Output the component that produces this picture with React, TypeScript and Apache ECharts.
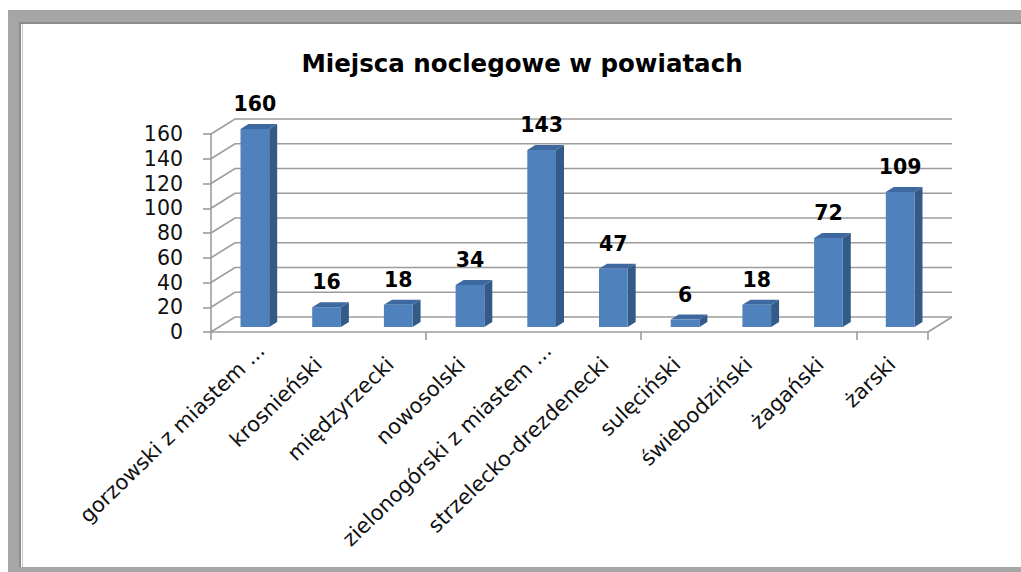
import React, { useEffect, useRef } from 'react';
import * as echarts from 'echarts';

const chartTitle = 'Miejsca noclegowe w powiatach';
const categories = [
  'gorzowski z miastem ...',
  'krosnieński',
  'międzyrzecki',
  'nowosolski',
  'zielonogórski z miastem ...',
  'strzelecko-drezdenecki',
  'sulęciński',
  'świebodziński',
  'żagański',
  'żarski',
];
const values = [160, 16, 18, 34, 143, 47, 6, 18, 72, 109];
const yTicks = [0, 20, 40, 60, 80, 100, 120, 140, 160];

const FONT = '"DejaVu Sans"';
const GRID_COLOR = '#9c9c9c';
const DX = 24;
const DY = -15;
const LABEL_ROT = (44 * Math.PI) / 180;

export default function App() {
  const ref = useRef<HTMLDivElement>(null);
  useEffect(() => {
    const chart = echarts.init(ref.current!, null, { renderer: 'svg' });
    const option: any = {
      animation: false,
      backgroundColor: '#ffffff',
      grid: { left: 211, right: 93, top: 134, bottom: 240, containLabel: false },
      graphic: [
        { type: 'rect', silent: true, shape: { x: 8, y: 10, width: 1013, height: 12 }, style: { fill: '#a6a6a6' } },
        { type: 'rect', silent: true, shape: { x: 19, y: 22, width: 1002, height: 2 }, style: { fill: '#8c8c8c' } },
        { type: 'rect', silent: true, shape: { x: 8, y: 10, width: 11, height: 562 }, style: { fill: '#a6a6a6' } },
        { type: 'rect', silent: true, shape: { x: 19, y: 22, width: 2, height: 546 }, style: { fill: '#8c8c8c' } },
        { type: 'rect', silent: true, shape: { x: 22, y: 24, width: 1, height: 543 }, style: { fill: '#c8c8c8' } },
        { type: 'rect', silent: true, shape: { x: 8, y: 567, width: 1013, height: 5 }, style: { fill: '#a6a6a6' } },
        {
          type: 'text',
          silent: true,
          x: 522,
          y: 63,
          style: {
            text: chartTitle,
            align: 'center',
            textAlign: 'center',
            verticalAlign: 'middle',
            textVerticalAlign: 'middle',
            font: 'bold 24.5px "DejaVu Sans"',
            fill: '#000000',
          },
        },
      ],
      xAxis: {
        type: 'category',
        data: categories,
        boundaryGap: true,
        axisLine: { show: true, lineStyle: { color: GRID_COLOR, width: 1.6 } },
        axisTick: { show: true, length: 8, lineStyle: { color: GRID_COLOR, width: 1.6 } },
        axisLabel: { show: false },
        splitLine: { show: false },
      },
      yAxis: {
        type: 'value',
        min: 0,
        max: 160,
        interval: 20,
        axisLine: { show: true, lineStyle: { color: GRID_COLOR, width: 1.6 } },
        axisTick: { show: true, length: 8, lineStyle: { color: GRID_COLOR, width: 1.6 } },
        axisLabel: { margin: 28, fontFamily: FONT, fontSize: 20.5, color: '#111111' },
        splitLine: { show: false },
      },
      series: [
        {
          type: 'custom',
          z: 1,
          silent: true,
          data: [[0, 0]],
          encode: { x: 0, y: 1 },
          renderItem: (params: any, api: any) => {
            const cs = params.coordSys;
            const children: any[] = [];
            const lineStyle = { stroke: GRID_COLOR, lineWidth: 1.6, fill: null };
            yTicks.forEach((t) => {
              const yf = api.coord([0, t])[1];
              children.push({
                type: 'polyline',
                shape: { points: [[cs.x, yf], [cs.x + DX, yf + DY], [cs.x + cs.width + DX, yf + DY]] },
                style: lineStyle,
              });
            });
            const y0 = api.coord([0, 0])[1];
            children.push({
              type: 'line',
              shape: { x1: cs.x + cs.width, y1: y0, x2: cs.x + cs.width + DX, y2: y0 + DY },
              style: lineStyle,
            });
            return { type: 'group', children };
          },
        },
        {
          type: 'custom',
          z: 2,
          silent: true,
          clip: false,
          data: categories.map((c, i) => [i, 0]),
          encode: { x: 0, y: 1 },
          renderItem: (params: any, api: any) => {
            const i = api.value(0);
            const p = api.coord([i, 0]);
            const name = categories[i];
            const shift = name.endsWith('...') ? 20 : 0;
            return {
              type: 'text',
              x: p[0] + shift * Math.cos(LABEL_ROT),
              y: p[1] + 29 - shift * Math.sin(LABEL_ROT),
              rotation: LABEL_ROT,
              style: {
                text: name,
                align: 'right',
                textAlign: 'right',
                verticalAlign: 'middle',
                textVerticalAlign: 'middle',
                font: '21px "DejaVu Sans"',
                fill: '#111111',
              },
            };
          },
        },
        {
          type: 'custom',
          z: 3,
          data: values.map((v, i) => [i, v]),
          encode: { x: 0, y: 1 },
          renderItem: (params: any, api: any) => {
            const xi = api.value(0);
            const v = api.value(1);
            const base = api.coord([xi, 0]);
            const top = api.coord([xi, v]);
            const band = api.size([1, 0])[0];
            const w = band * 0.4;
            const dx = DX / 3;
            const dy = DY / 3;
            const fx = base[0] + dx - w / 2;
            const fy0 = base[1] + dy;
            const fy1 = top[1] + dy;
            return {
              type: 'group',
              children: [
                {
                  type: 'polygon',
                  shape: { points: [[fx + w, fy1], [fx + w + dx, fy1 + dy], [fx + w + dx, fy0 + dy], [fx + w, fy0]] },
                  style: { fill: '#345a88' },
                },
                {
                  type: 'polygon',
                  shape: { points: [[fx, fy1], [fx + dx, fy1 + dy], [fx + w + dx, fy1 + dy], [fx + w, fy1]] },
                  style: { fill: '#3d68a0' },
                },
                {
                  type: 'rect',
                  shape: { x: fx, y: fy1, width: w, height: fy0 - fy1 },
                  style: { fill: '#4f81bd' },
                },
                {
                  type: 'text',
                  x: fx + w / 2,
                  y: fy1 - 25,
                  style: {
                    text: String(v),
                    align: 'center',
                    textAlign: 'center',
                    verticalAlign: 'middle',
                    textVerticalAlign: 'middle',
                    font: 'bold 20.5px "DejaVu Sans"',
                    fill: '#000000',
                  },
                },
              ],
            };
          },
        },
      ],
    };
    chart.setOption(option);
    return () => chart.dispose();
  }, []);
  return (
    <div
      ref={ref}
      style={{ position: 'fixed', left: 0, top: 0, width: 1021, height: 572, background: '#ffffff' }}
    />
  );
}
